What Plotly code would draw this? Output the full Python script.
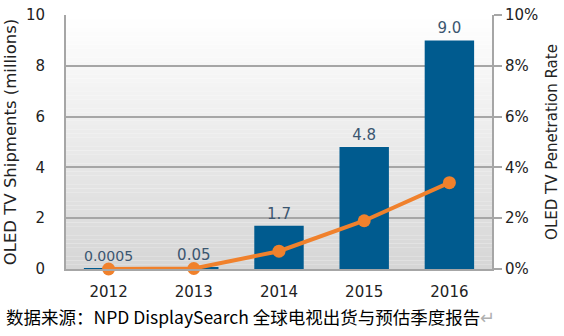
import plotly.graph_objects as go

years = ["2012", "2013", "2014", "2015", "2016"]
shipments = [0.0005, 0.05, 1.7, 4.8, 9.0]          # millions of units
shipment_labels = ["0.0005", "0.05", "1.7", "4.8", "9.0"]
penetration = [0.0, 0.02, 0.7, 1.9, 3.4]           # percent of TV shipments
left_ticks = [0, 2, 4, 6, 8, 10]
right_ticks = [0, 2, 4, 6, 8, 10]
right_tick_text = ["0%", "2%", "4%", "6%", "8%", "10%"]

FONT = "DejaVu Sans"
BAR = "#005b8f"
LINE = "#f0812c"
GRID = "#a6a6a6"

fig = go.Figure()

# soft vertical gradient behind the plot area (white at top, light grey at bottom)
n = 60
for i in range(n):
    t = i / (n - 1)
    g = int(round(255 - (255 - 214) * t))
    fig.add_shape(
        type="rect", xref="x domain", yref="y domain",
        x0=0, x1=1, y0=1 - (i + 1) / n, y1=1 - i / n,
        fillcolor=f"rgb({g},{g},{g})", line_width=0, layer="below",
    )

fig.add_trace(go.Bar(
    x=years, y=shipments, marker_color=BAR, marker_line_width=0,
    text=shipment_labels, textposition="outside", cliponaxis=False,
    textfont=dict(family=FONT, size=15, color="#3b5670"),
    width=0.58, yaxis="y",
))

fig.add_trace(go.Scatter(
    x=years, y=penetration, mode="lines+markers", yaxis="y2",
    line=dict(color=LINE, width=4), marker=dict(color=LINE, size=13),
    cliponaxis=False,
))

fig.update_layout(
    width=564, height=336,
    margin=dict(l=66, r=68, t=6, b=67),
    paper_bgcolor="white", plot_bgcolor="rgba(0,0,0,0)",
    showlegend=False,
    font=dict(family=FONT, size=15, color="#222"),
    bargap=0.42,
    xaxis=dict(
        showline=True, linecolor=GRID, linewidth=2,
        ticks="outside", ticklen=8, tickcolor="rgba(0,0,0,0)",
        tickfont=dict(family=FONT, size=15, color="#222"),
        showgrid=False,
    ),
    yaxis=dict(
        range=[0, 10], tickvals=left_ticks,
        showline=True, linecolor=GRID, linewidth=2,
        gridcolor=GRID, gridwidth=1.5,
        ticks="outside", ticklen=16, tickcolor="rgba(0,0,0,0)",
        ticklabeloverflow="allow",
        tickfont=dict(family=FONT, size=15, color="#222"),
        title=dict(text="OLED TV Shipments (millions)", standoff=5,
                   font=dict(family=FONT, size=16.5, color="#222")),
        zeroline=False,
    ),
    yaxis2=dict(
        range=[0, 10], tickvals=right_ticks, ticktext=right_tick_text,
        overlaying="y", side="right",
        showline=True, linecolor=GRID, linewidth=2,
        ticks="outside", ticklen=8, tickcolor=GRID, tickwidth=1.5,
        ticklabeloverflow="allow",
        showgrid=False, zeroline=False,
        tickfont=dict(family=FONT, size=15, color="#222"),
        title=dict(text="OLED TV Penetration Rate", standoff=9,
                   font=dict(family=FONT, size=15, color="#222")),
    ),
)

fig.add_annotation(
    xref="paper", yref="paper", x=-63 / 430, y=-49 / 263,
    xanchor="left", yanchor="middle", showarrow=False,
    text="数据来源：NPD DisplaySearch 全球电视出货与预估季度报告<span style='color:#b0b0b0'>↵</span>",
    font=dict(family="Noto Sans CJK SC", size=17.5, color="#000"),
)

fig.write_html("out.html")
